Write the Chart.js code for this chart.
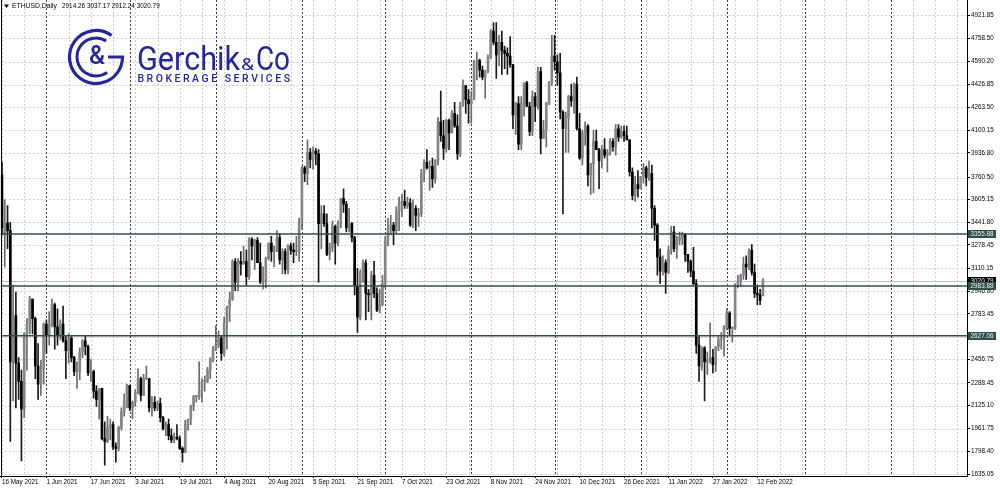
<!DOCTYPE html>
<html>
<head>
<meta charset="utf-8">
<script src="https://cdn.jsdelivr.net/npm/chart.js@4.4.0/dist/chart.umd.min.js"></script>
<style>
  html, body { margin: 0; padding: 0; background: #fff; }
  #wrap { position: relative; width: 1000px; height: 491px; }
</style>
</head>
<body>
<div id="wrap"><canvas id="chart"></canvas></div>
<script>
const firstDay = Date.UTC(2021, 4, 16);
const slotCount = 348;
const monthNames = ["Jan", "Feb", "Mar", "Apr", "May", "Jun", "Jul", "Aug", "Sep", "Oct", "Nov", "Dec"];

// daily candles, [open, high, low, close]
const may21 = [
  [3780, 3870, 3350, 3400], [3350, 3600, 3120, 3435], [3435, 3560, 3250, 3380], [3380, 3440, 1870, 2440],
  [2440, 2990, 2160, 2770], [2770, 2940, 2110, 2430], [2430, 2470, 2170, 2300], [2300, 2380, 1730, 2100],
  [2100, 2650, 2040, 2640], [2640, 2750, 2380, 2710], [2710, 2910, 2640, 2890], [2890, 2890, 2640, 2750],
  [2750, 2760, 2320, 2410], [2410, 2570, 2170, 2280], [2280, 2450, 2200, 2390], [2390, 2720, 2280, 2710],
];
const jun21 = [
  [2710, 2740, 2500, 2630], [2630, 2800, 2560, 2710], [2710, 2890, 2690, 2850], [2850, 2860, 2530, 2690],
  [2690, 2820, 2560, 2630], [2630, 2740, 2600, 2710], [2710, 2840, 2580, 2590], [2590, 2620, 2320, 2520],
  [2520, 2640, 2430, 2610], [2610, 2620, 2440, 2470], [2470, 2480, 2340, 2370], [2370, 2440, 2250, 2370],
  [2370, 2540, 2310, 2510], [2510, 2600, 2470, 2590], [2590, 2630, 2490, 2550], [2550, 2560, 2340, 2360],
  [2360, 2460, 2300, 2370], [2370, 2380, 2180, 2230], [2230, 2270, 2120, 2170], [2170, 2250, 2030, 2250],
  [2250, 2250, 1880, 1890], [1890, 2010, 1700, 1870], [1870, 2050, 1860, 1970], [1970, 2030, 1880, 1990],
  [1990, 2010, 1810, 1830], [1830, 1860, 1720, 1820], [1820, 1980, 1800, 1970], [1970, 2110, 1950, 2080],
  [2080, 2210, 2050, 2160], [2160, 2280, 2110, 2270],
];
const jul21 = [
  [2270, 2270, 2090, 2110], [2110, 2160, 2030, 2150], [2150, 2240, 2120, 2220], [2220, 2390, 2210, 2320],
  [2320, 2330, 2160, 2200], [2200, 2350, 2200, 2320], [2320, 2410, 2310, 2320], [2320, 2320, 2080, 2110],
  [2110, 2190, 2050, 2150], [2150, 2190, 2090, 2110], [2110, 2160, 2090, 2140], [2140, 2180, 2010, 2040],
  [2040, 2050, 1950, 1960], [1960, 2010, 1910, 1990], [1990, 2030, 1880, 1910], [1910, 1960, 1860, 1880],
  [1880, 1930, 1860, 1900], [1900, 1990, 1880, 1890], [1890, 1910, 1810, 1820], [1820, 1830, 1720, 1790],
  [1790, 2020, 1790, 1990], [1990, 2030, 1950, 2030], [2030, 2130, 1990, 2120], [2120, 2200, 2090, 2190],
  [2190, 2200, 2150, 2190], [2190, 2440, 2170, 2230], [2230, 2320, 2150, 2300], [2300, 2340, 2230, 2300],
  [2300, 2400, 2290, 2380], [2380, 2470, 2320, 2460], [2460, 2550, 2440, 2530],
];
const aug21 = [
  [2530, 2700, 2520, 2560], [2560, 2660, 2540, 2610], [2610, 2630, 2450, 2500], [2500, 2760, 2480, 2720],
  [2720, 2840, 2530, 2830], [2830, 2940, 2730, 2890], [2890, 3170, 2880, 3160], [3160, 3180, 2950, 3010],
  [3010, 3180, 2950, 3160], [3160, 3230, 3060, 3140], [3140, 3270, 3140, 3160], [3160, 3240, 2990, 3050],
  [3050, 3330, 3030, 3320], [3320, 3330, 3170, 3270], [3270, 3320, 3100, 3310], [3310, 3330, 3150, 3150],
  [3150, 3290, 3000, 3010], [3010, 3120, 2960, 3020], [3020, 3190, 2970, 3180], [3180, 3290, 3170, 3290],
  [3290, 3340, 3160, 3230], [3230, 3270, 3120, 3240], [3240, 3380, 3230, 3330], [3330, 3360, 3140, 3170],
  [3170, 3250, 3070, 3230], [3230, 3250, 3070, 3100], [3100, 3280, 3070, 3270], [3270, 3290, 3210, 3240],
  [3240, 3290, 3150, 3230], [3230, 3340, 3200, 3230], [3230, 3470, 3160, 3430],
];
const sep21 = [
  [3430, 3840, 3390, 3830], [3830, 3840, 3730, 3790], [3790, 4030, 3710, 3940], [3940, 3970, 3830, 3890],
  [3890, 3980, 3820, 3950], [3950, 3970, 3850, 3930], [3930, 3960, 3010, 3430], [3430, 3560, 3250, 3500],
  [3500, 3560, 3410, 3430], [3430, 3500, 3200, 3210], [3210, 3290, 3170, 3260], [3260, 3450, 3230, 3410],
  [3410, 3420, 3140, 3290], [3290, 3450, 3270, 3430], [3430, 3610, 3400, 3610], [3610, 3680, 3510, 3570],
  [3570, 3590, 3370, 3400], [3400, 3540, 3370, 3430], [3430, 3440, 3300, 3330], [3330, 3340, 2920, 2980],
  [2980, 3110, 2650, 2760], [2760, 3100, 2740, 3080], [3080, 3170, 3010, 3150], [3150, 3170, 2740, 2930],
  [2930, 2960, 2800, 2920], [2920, 3090, 2740, 3060], [3060, 3160, 2900, 2930], [2930, 2970, 2800, 2810],
  [2810, 2960, 2790, 2850], [2850, 3060, 2840, 3000],
];
const oct21 = [
  [3000, 3340, 2970, 3310], [3310, 3470, 3270, 3390], [3390, 3490, 3350, 3420], [3420, 3440, 3280, 3380],
  [3380, 3550, 3360, 3520], [3520, 3620, 3380, 3580], [3580, 3640, 3480, 3590], [3590, 3670, 3540, 3560],
  [3560, 3620, 3540, 3580], [3580, 3610, 3410, 3420], [3420, 3600, 3400, 3540], [3540, 3560, 3380, 3490],
  [3490, 3540, 3410, 3500], [3500, 3820, 3480, 3790], [3790, 3890, 3730, 3870], [3870, 3960, 3820, 3830],
  [3830, 3880, 3670, 3840], [3840, 3900, 3690, 3750], [3750, 3890, 3720, 3880], [3880, 4190, 3850, 4160],
  [4160, 4380, 4020, 4060], [4060, 4170, 3890, 3970], [3970, 4180, 3940, 4170], [4170, 4180, 3960, 4080],
  [4080, 4240, 4080, 4220], [4220, 4300, 4120, 4130], [4130, 4210, 3890, 3930], [3930, 4300, 3910, 4280],
  [4280, 4460, 4270, 4420], [4420, 4420, 4220, 4320], [4320, 4390, 4150, 4290],
];
const nov21 = [
  [4290, 4380, 4150, 4320], [4320, 4600, 4320, 4590], [4590, 4660, 4460, 4600], [4600, 4610, 4480, 4530],
  [4530, 4560, 4460, 4480], [4480, 4530, 4330, 4520], [4520, 4640, 4510, 4620], [4620, 4820, 4610, 4810],
  [4810, 4870, 4710, 4730], [4730, 4870, 4470, 4640], [4640, 4780, 4560, 4730], [4730, 4810, 4500, 4670],
  [4670, 4700, 4540, 4650], [4650, 4690, 4500, 4630], [4630, 4770, 4550, 4570], [4570, 4570, 4110, 4210],
  [4210, 4300, 4070, 4290], [4290, 4340, 3960, 4000], [4000, 4340, 3960, 4300], [4300, 4440, 4200, 4440],
  [4440, 4450, 4270, 4270], [4270, 4300, 4060, 4090], [4090, 4380, 4060, 4340], [4340, 4370, 4160, 4270],
  [4270, 4550, 4250, 4520], [4520, 4550, 3930, 4040], [4040, 4170, 4040, 4100], [4100, 4300, 3980, 4290],
  [4290, 4450, 4280, 4440], [4440, 4780, 4420, 4630],
];
const dec21 = [
  [4630, 4780, 4530, 4590], [4590, 4640, 4420, 4510], [4510, 4650, 4180, 4230], [4230, 4240, 3500, 4110],
  [4110, 4230, 3940, 4190], [4190, 4350, 3940, 4340], [4340, 4430, 4270, 4310], [4310, 4440, 4220, 4430],
  [4430, 4480, 4100, 4110], [4110, 4220, 3890, 3900], [3900, 4100, 3850, 4080], [4080, 4160, 3990, 4130],
  [4130, 4140, 3700, 3780], [3780, 3860, 3640, 3860], [3860, 4100, 3650, 4020], [4020, 4100, 3960, 3960],
  [3960, 3970, 3680, 3880], [3880, 3990, 3830, 3960], [3960, 4040, 3900, 3920], [3920, 3960, 3800, 3940],
  [3940, 4040, 3920, 4020], [4020, 4040, 3950, 3980], [3980, 4140, 3920, 4110], [4110, 4140, 4020, 4050],
  [4050, 4130, 4040, 4090], [4090, 4130, 4020, 4060], [4060, 4130, 4030, 4030], [4030, 4030, 3770, 3800],
  [3800, 3830, 3600, 3630], [3630, 3770, 3590, 3710], [3710, 3810, 3620, 3680],
];
const jan22 = [
  [3680, 3770, 3680, 3770], [3770, 3860, 3720, 3830], [3830, 3840, 3700, 3760], [3760, 3880, 3740, 3790],
  [3790, 3850, 3400, 3540], [3540, 3560, 3310, 3420], [3420, 3430, 3060, 3190], [3190, 3250, 3000, 3090],
  [3090, 3200, 3060, 3150], [3150, 3170, 2930, 3080], [3080, 3270, 3070, 3240], [3240, 3410, 3210, 3370],
  [3370, 3410, 3230, 3250], [3250, 3340, 3180, 3310], [3310, 3370, 3280, 3330], [3330, 3370, 3280, 3350],
  [3350, 3360, 3160, 3210], [3210, 3210, 3080, 3160], [3160, 3170, 3050, 3090], [3090, 3260, 2990, 3000],
  [3000, 3030, 2500, 2560], [2560, 2620, 2300, 2410], [2410, 2550, 2380, 2540], [2540, 2550, 2160, 2440],
  [2440, 2510, 2350, 2460], [2460, 2720, 2430, 2470], [2470, 2530, 2360, 2420], [2420, 2550, 2370, 2550],
  [2550, 2620, 2520, 2600], [2600, 2650, 2530, 2610], [2610, 2700, 2480, 2690],
];
const feb22 = [
  [2690, 2820, 2670, 2790], [2790, 2800, 2630, 2680], [2680, 2690, 2580, 2680], [2680, 3000, 2670, 2990],
  [2990, 3060, 2970, 3020], [3020, 3070, 2980, 3060], [3060, 3190, 3030, 3140], [3140, 3200, 3030, 3120],
  [3120, 3250, 3100, 3240], [3240, 3280, 3060, 3080], [3080, 3140, 2900, 2930], [2930, 2990, 2850, 2920],
  [2920, 2960, 2850, 2880], [2914.26, 3037.17, 2912.24, 3020.79],
];

const yTicks = [4921.85, 4758.50, 4590.20, 4426.85, 4263.50, 4100.15, 3936.80, 3760.50, 3605.15, 3441.80,
  3278.45, 3110.15, 2946.80, 2783.45, 2620.10, 2456.75, 2288.45, 2125.10, 1961.75, 1798.40, 1635.05];
const levels = [3355.88, 2983.88, 2627.06];
const bid = 3020.79;
const symbolText = "ETHUSD,Daily";
const quoteText = "2914.26 3037.17 2912.24 3020.79";

const candles = [].concat(may21, jun21, jul21, aug21, sep21, oct21, nov21, dec21, jan22, feb22);

const dates = [];
const labels = [];
for (let i = 0; i < slotCount; i++) {
  const d = new Date(firstDay + i * 86400000);
  dates.push(d);
  labels.push(`${d.getUTCDate()} ${monthNames[d.getUTCMonth()]} ${d.getUTCFullYear()}`);
}

const bull = candles.map((c) => c[3] >= c[0]);
const axisFont = { family: "Liberation Sans, Arial, sans-serif", size: 6.3 };

const gridLines = {
  id: "gridLines",
  beforeDatasetsDraw(chart) {
    const { ctx, chartArea: a, scales: { x, y } } = chart;
    ctx.save();
    ctx.beginPath();
    ctx.rect(a.left, a.top, a.right - a.left, a.bottom - a.top);
    ctx.clip();
    ctx.lineWidth = 1;
    ctx.setLineDash([2, 2]);
    ctx.strokeStyle = "#cbcbcb";
    ctx.beginPath();
    yTicks.forEach((v) => {
      const py = Math.round(y.getPixelForValue(v)) + 0.5;
      ctx.moveTo(a.left, py);
      ctx.lineTo(a.right, py);
    });
    for (let i = 0; i < slotCount; i += 8) {
      if (dates[i].getUTCDate() === 1) continue;
      const px = Math.round(x.getPixelForValue(i)) + 0.5;
      ctx.moveTo(px, a.top);
      ctx.lineTo(px, a.bottom);
    }
    ctx.stroke();
    ctx.strokeStyle = "#3a3a3a";
    ctx.beginPath();
    dates.forEach((d, i) => {
      if (d.getUTCDate() !== 1) return;
      const px = Math.round(x.getPixelForValue(i)) + 0.5;
      ctx.moveTo(px, a.top);
      ctx.lineTo(px, a.bottom);
    });
    ctx.stroke();

    // bid line sits under the candles
    ctx.setLineDash([]);
    ctx.strokeStyle = "#c0c0c0";
    ctx.beginPath();
    const by = Math.round(y.getPixelForValue(bid)) + 0.5;
    ctx.moveTo(a.left, by);
    ctx.lineTo(a.right, by);
    ctx.stroke();
    ctx.restore();
  },
  afterDatasetsDraw(chart) {
    const { ctx, chartArea: a, scales: { y } } = chart;
    ctx.save();
    ctx.strokeStyle = "#2f4f4f";
    ctx.lineWidth = 1.5;
    levels.forEach((v) => {
      const py = y.getPixelForValue(v);
      ctx.beginPath();
      ctx.moveTo(a.left, py);
      ctx.lineTo(a.right, py);
      ctx.stroke();
    });
    ctx.restore();
  },
};

function priceBox(ctx, y, value, bg) {
  ctx.fillStyle = bg;
  ctx.fillRect(968, Math.round(y) - 4, 28, 8);
  ctx.fillStyle = "#f0f0f0";
  ctx.font = "6.3px Liberation Sans, Arial, sans-serif";
  ctx.textAlign = "center";
  ctx.textBaseline = "middle";
  ctx.fillText(value.toFixed(2), 982, Math.round(y) + 0.5);
}

function fitText(ctx, text, x, y, width) {
  const w = ctx.measureText(text).width;
  ctx.save();
  ctx.translate(x, y);
  ctx.scale(width / w, 1);
  ctx.fillText(text, 0, 0);
  ctx.restore();
}

function spacedText(ctx, text, x0, x1, y) {
  const chars = text.split("");
  const widths = chars.map((c) => ctx.measureText(c).width);
  const total = widths.reduce((s, w) => s + w, 0);
  const gap = (x1 - x0 - total) / (chars.length - 1);
  let x = x0;
  chars.forEach((c, i) => {
    ctx.fillText(c, x, y);
    x += widths[i] + gap;
  });
}

const overlay = {
  id: "overlay",
  afterDraw(chart) {
    const { ctx, chartArea: a, scales: { y } } = chart;
    ctx.save();

    // left frame
    ctx.strokeStyle = "#000";
    ctx.lineWidth = 1;
    ctx.beginPath();
    ctx.moveTo(1.5, a.top);
    ctx.lineTo(1.5, a.bottom);
    ctx.stroke();

    // title
    ctx.fillStyle = "#000";
    ctx.beginPath();
    ctx.moveTo(4, 4.5);
    ctx.lineTo(9, 4.5);
    ctx.lineTo(6.5, 8);
    ctx.closePath();
    ctx.fill();
    ctx.font = "6.8px Liberation Sans, Arial, sans-serif";
    ctx.textBaseline = "middle";
    ctx.textAlign = "left";
    ctx.fillText(symbolText, 12, 6.5);
    ctx.font = "6.4px Liberation Sans, Arial, sans-serif";
    ctx.fillText(quoteText, 62, 6.5);

    // price labels on the axis
    priceBox(ctx, y.getPixelForValue(bid), bid, "#000");
    levels.forEach((v) => priceBox(ctx, y.getPixelForValue(v), v, "#2f4f4f"));

    // logo
    const blue = "#25259c";
    const cx = 96, cy = 57;
    ctx.strokeStyle = blue;
    ctx.fillStyle = blue;
    ctx.lineCap = "butt";
    ctx.lineWidth = 3.2;
    ctx.beginPath();
    ctx.arc(cx, cy, 26.5, -0.3 * Math.PI, 0, true);
    ctx.lineTo(cx + 12, cy);
    ctx.stroke();
    ctx.lineWidth = 3;
    ctx.beginPath();
    ctx.arc(cx, cy, 19, -0.32 * Math.PI, 0.3 * Math.PI, true);
    ctx.stroke();
    ctx.font = "500 25px Roboto, sans-serif";
    ctx.textAlign = "center";
    ctx.textBaseline = "middle";
    ctx.fillText("&", cx + 1, cy + 1);

    ctx.textAlign = "left";
    ctx.textBaseline = "alphabetic";
    ctx.font = "400 34px Roboto, sans-serif";
    fitText(ctx, "Gerchik", 137, 70, 103);
    ctx.font = "400 17px Roboto, sans-serif";
    fitText(ctx, "&", 241, 70, 13);
    ctx.font = "400 34px Roboto, sans-serif";
    fitText(ctx, "Co", 256, 70, 34);
    ctx.font = "500 10.5px Roboto, sans-serif";
    spacedText(ctx, "BROKERAGE SERVICES", 137.5, 290, 82);

    ctx.restore();
  },
};

new Chart(document.getElementById("chart"), {
  type: "bar",
  data: {
    labels: labels,
    datasets: [
      {
        label: "body",
        data: candles.map((c) => [c[0], c[3]]),
        backgroundColor: bull.map((b) => (b ? "#858585" : "#000000")),
        borderWidth: 0,
        barThickness: 2,
        minBarLength: 1,
        grouped: false,
        order: 1,
      },
      {
        label: "wick",
        data: candles.map((c) => [c[2], c[1]]),
        backgroundColor: bull.map((b) => (b ? "#6a6a6a" : "#1a1a1a")),
        borderWidth: 0,
        barThickness: 1,
        grouped: false,
        order: 2,
      },
    ],
  },
  options: {
    animation: false,
    responsive: true,
    maintainAspectRatio: false,
    devicePixelRatio: 1,
    layout: { padding: { left: 0.6, right: 0, top: 0, bottom: 0 } },
    plugins: { legend: { display: false }, tooltip: { enabled: false } },
    scales: {
      x: {
        type: "category",
        offset: true,
        afterBuildTicks: (s) => {
          s.ticks = s.ticks.filter((t) => t.value % 16 === 0 && t.value < candles.length);
        },
        afterFit: (s) => {
          s.height = 15;
          s.paddingLeft = 0;
          s.paddingRight = 0;
        },
        grid: { display: true, drawOnChartArea: false, offset: false, tickLength: 2, tickColor: "#000" },
        border: { display: true, color: "#000" },
        ticks: {
          autoSkip: false,
          maxRotation: 0,
          minRotation: 0,
          align: "start",
          padding: 0,
          color: "#000",
          font: axisFont,
        },
      },
      y: {
        position: "right",
        min: 1621.7,
        max: 5032.7,
        afterBuildTicks: (s) => {
          s.ticks = yTicks.map((v) => ({ value: v }));
        },
        afterFit: (s) => {
          s.width = 33;
          s.paddingTop = 0;
          s.paddingBottom = 0;
        },
        grid: { drawOnChartArea: false, drawTicks: true, tickLength: 3, tickColor: "#000" },
        border: { display: true, color: "#000" },
        ticks: {
          autoSkip: false,
          padding: 1,
          color: "#000",
          font: axisFont,
          callback: (v) => Number(v).toFixed(2),
        },
      },
    },
  },
  plugins: [gridLines, overlay],
});
</script>
</body>
</html>
